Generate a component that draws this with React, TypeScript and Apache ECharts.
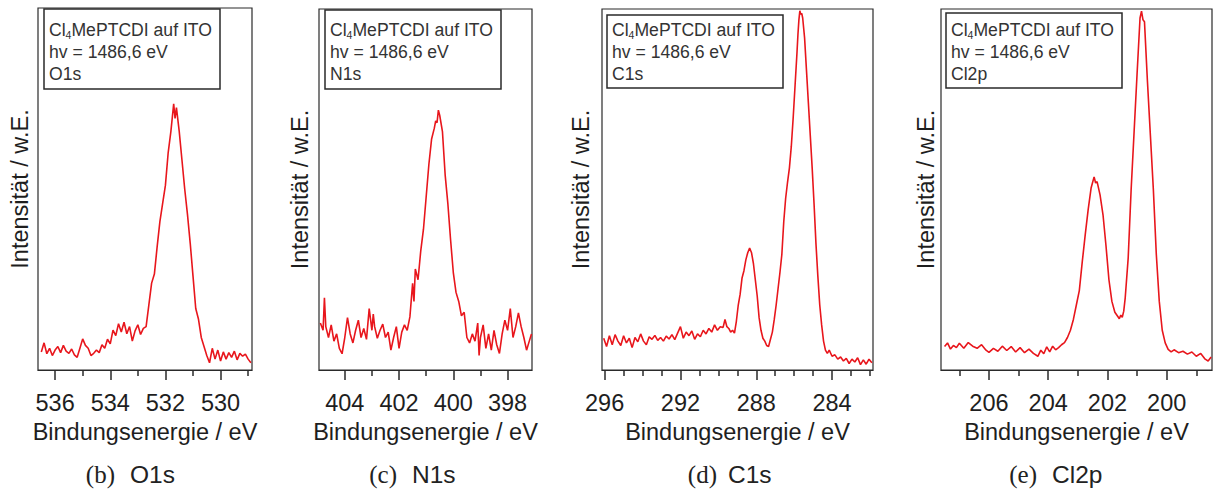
import React, { useEffect, useRef } from "react";
import * as echarts from "echarts";

// ---------- data (binding energy eV, intensity in arb. units 0..100) ----------
const O1S: [number, number][] = [
  [536.5, 5.0], [536.4, 7.5], [536.3, 4.5], [536.2, 6.0], [536.1, 4.0], [536.0, 5.5],
  [535.9, 6.5], [535.8, 4.8], [535.7, 6.8], [535.6, 5.2], [535.5, 4.6], [535.4, 5.8],
  [535.3, 4.2], [535.2, 3.5], [535.1, 6.0], [535.0, 8.6], [534.9, 6.8], [534.8, 6.0],
  [534.7, 4.0], [534.6, 4.6], [534.5, 5.5], [534.4, 4.8], [534.3, 7.0], [534.2, 6.0],
  [534.1, 8.5], [534.0, 7.2], [533.9, 11.0], [533.8, 9.5], [533.7, 12.8], [533.6, 10.5],
  [533.5, 13.2], [533.4, 10.0], [533.3, 12.0], [533.2, 8.0], [533.1, 10.8], [533.0, 12.5],
  [532.9, 9.8], [532.8, 11.5], [532.7, 12.0], [532.6, 18.0], [532.5, 24.0], [532.4, 26.5],
  [532.3, 34.0], [532.2, 41.0], [532.1, 46.0], [532.0, 51.0], [531.9, 60.0], [531.8, 66.0],
  [531.7, 73.5], [531.65, 69.5], [531.6, 72.5], [531.5, 66.0], [531.4, 58.0], [531.3, 50.0],
  [531.2, 43.0], [531.1, 35.0], [531.0, 26.0], [530.9, 17.0], [530.8, 14.0], [530.7, 9.0],
  [530.6, 6.5], [530.5, 4.0], [530.4, 2.0], [530.3, 6.0], [530.2, 3.0], [530.1, 5.5],
  [530.0, 2.5], [529.9, 5.0], [529.8, 3.0], [529.7, 4.8], [529.6, 3.5], [529.5, 5.2],
  [529.4, 2.8], [529.3, 4.6], [529.2, 3.8], [529.1, 4.4], [529.0, 3.0], [528.9, 2.0],
];

const N1S: [number, number][] = [
  [404.9, 13], [404.8, 11], [404.75, 20], [404.7, 12], [404.6, 9], [404.5, 12.5],
  [404.4, 8], [404.3, 10], [404.2, 6], [404.1, 4.5], [404.0, 9], [403.9, 14.5],
  [403.8, 10], [403.7, 7.5], [403.6, 11], [403.5, 13.8], [403.4, 9], [403.3, 11.5],
  [403.2, 8.5], [403.1, 17], [403.0, 11], [402.95, 15.5], [402.9, 12], [402.8, 8.8],
  [402.7, 11], [402.6, 12.7], [402.5, 9], [402.4, 10.5], [402.3, 5.5], [402.2, 9],
  [402.1, 12], [402.0, 6], [401.9, 10.5], [401.8, 12.5], [401.7, 11], [401.6, 14.7],
  [401.5, 24], [401.45, 19], [401.4, 28], [401.3, 25], [401.2, 33], [401.1, 39],
  [401.0, 48], [400.9, 57], [400.8, 64], [400.7, 67], [400.65, 69], [400.6, 68.5],
  [400.55, 72], [400.5, 70.5], [400.4, 66], [400.3, 54], [400.2, 46], [400.1, 36],
  [400.0, 27], [399.9, 21.5], [399.8, 19], [399.7, 15], [399.6, 16], [399.5, 9],
  [399.4, 7.5], [399.3, 10], [399.2, 8], [399.1, 13], [399.05, 4], [399.0, 9],
  [398.9, 12.5], [398.8, 6], [398.7, 10], [398.6, 5.5], [398.5, 11], [398.4, 7],
  [398.3, 4.6], [398.2, 10], [398.1, 13.8], [398.0, 11], [397.9, 17], [397.8, 9],
  [397.7, 12], [397.6, 15.8], [397.5, 12], [397.4, 9], [397.3, 5.5], [397.2, 8],
  [397.12, 10],
];

const C1S: [number, number][] = [
  [296.05, 8.8], [295.9, 6.5], [295.75, 9.5], [295.6, 7.0], [295.45, 9.8], [295.3, 8.0],
  [295.15, 6.8], [295.0, 9.5], [294.85, 7.5], [294.7, 8.8], [294.55, 6.2], [294.4, 9.0],
  [294.25, 7.8], [294.1, 10.0], [293.95, 8.0], [293.8, 7.0], [293.65, 9.2], [293.5, 8.5],
  [293.35, 9.6], [293.2, 8.2], [293.05, 9.0], [292.9, 8.0], [292.75, 9.4], [292.6, 8.6],
  [292.45, 9.8], [292.3, 8.4], [292.15, 10.2], [292.0, 12.0], [291.85, 8.8], [291.7, 10.5],
  [291.55, 9.5], [291.4, 10.8], [291.25, 8.5], [291.1, 10.0], [290.95, 9.2], [290.8, 11.0],
  [290.65, 10.0], [290.5, 11.5], [290.35, 10.5], [290.2, 12.5], [290.05, 11.0], [289.9, 12.0],
  [289.75, 11.8], [289.65, 14.0], [289.55, 12.0], [289.45, 11.5], [289.35, 10.5], [289.25, 11.0],
  [289.15, 10.2], [289.05, 13.5], [288.95, 18.0], [288.85, 21.0], [288.75, 25.5], [288.65, 27.5],
  [288.55, 30.5], [288.45, 32.5], [288.35, 33.8], [288.25, 32.5], [288.15, 29.5], [288.05, 25.0],
  [287.95, 20.5], [287.85, 14.5], [287.75, 11.0], [287.65, 8.8], [287.55, 8.0], [287.45, 6.8],
  [287.35, 6.5], [287.25, 8.5], [287.15, 10.5], [287.05, 14.0], [286.95, 18.0], [286.85, 22.5],
  [286.75, 27.0], [286.65, 32.0], [286.55, 41.0], [286.45, 47.5], [286.35, 52.0], [286.25, 56.0],
  [286.15, 62.0], [286.05, 70.0], [285.95, 79.0], [285.85, 88.0], [285.8, 93.0], [285.75, 97.0],
  [285.7, 99.5], [285.65, 98.5], [285.6, 98.8], [285.55, 97.5], [285.45, 92.0], [285.35, 83.0],
  [285.25, 74.0], [285.15, 65.0], [285.05, 56.0], [284.95, 46.0], [284.85, 35.0], [284.75, 26.0],
  [284.65, 18.0], [284.55, 12.5], [284.45, 8.0], [284.35, 5.5], [284.25, 4.6], [284.15, 5.5],
  [284.0, 3.8], [283.85, 4.2], [283.7, 3.0], [283.55, 3.6], [283.4, 2.5], [283.25, 3.2],
  [283.1, 1.8], [282.95, 3.0], [282.8, 2.2], [282.65, 3.4], [282.5, 1.5], [282.35, 2.8],
  [282.2, 1.6], [282.05, 3.0], [281.9, 2.0],
];

const CL2P: [number, number][] = [
  [207.5, 6.5], [207.4, 7.5], [207.3, 5.8], [207.2, 6.8], [207.1, 6.2], [207.0, 7.4],
  [206.85, 6.0], [206.7, 7.6], [206.55, 6.6], [206.4, 6.0], [206.25, 7.0], [206.1, 5.5],
  [206.0, 4.9], [205.85, 6.0], [205.7, 5.2], [205.55, 6.6], [205.4, 5.4], [205.25, 6.5],
  [205.1, 5.0], [204.95, 6.2], [204.8, 4.8], [204.65, 5.8], [204.5, 4.6], [204.35, 3.8],
  [204.25, 5.5], [204.15, 4.5], [204.05, 6.4], [203.95, 5.0], [203.85, 6.6], [203.75, 5.6],
  [203.65, 6.2], [203.55, 7.0], [203.45, 7.6], [203.35, 9.0], [203.25, 11.0], [203.15, 14.0],
  [203.05, 18.0], [202.95, 22.0], [202.85, 30.0], [202.75, 37.5], [202.65, 44.5], [202.55, 50.5],
  [202.5, 52.0], [202.45, 53.5], [202.4, 51.8], [202.35, 52.2], [202.25, 48.5], [202.15, 43.0],
  [202.05, 34.5], [201.95, 25.0], [201.85, 19.0], [201.75, 16.0], [201.65, 14.8], [201.6, 14.2],
  [201.55, 15.2], [201.5, 14.6], [201.45, 16.3], [201.4, 20.0], [201.3, 31.0], [201.2, 50.0],
  [201.1, 66.0], [201.0, 82.0], [200.9, 97.5], [200.85, 99.4], [200.8, 97.0], [200.75, 96.5],
  [200.65, 80.0], [200.55, 65.0], [200.45, 50.0], [200.35, 32.0], [200.25, 19.0], [200.15, 11.0],
  [200.05, 7.5], [199.95, 5.7], [199.85, 5.0], [199.75, 5.6], [199.6, 4.8], [199.45, 5.2],
  [199.3, 4.4], [199.15, 5.0], [199.0, 3.8], [198.85, 4.6], [198.7, 3.0], [198.6, 2.5],
  [198.5, 3.6],
];

// axis ranges (eV)
const O1S_RANGE = [528.86, 536.62];
const N1S_RANGE = [397.1, 404.95];
const C1S_RANGE = [281.84, 296.14];
const CL2P_RANGE = [198.47, 207.62];

// tick values
const O1S_MAJOR = [536, 534, 532, 530];
const O1S_MINOR = [535, 533, 531, 529];
const N1S_MAJOR = [404, 402, 400, 398];
const N1S_MINOR = [403, 401, 399];
const C1S_MAJOR = [296, 292, 288, 284];
const C1S_MINOR = [295, 294, 293, 291, 290, 289, 287, 286, 285, 283, 282];
const CL2P_MAJOR = [206, 204, 202, 200];
const CL2P_MINOR = [207, 205, 203, 201, 199];

// texts
const LINES = ["Cl", "4", "MePTCDI auf ITO", "hv = 1486,6 eV"];
const LEVELS = ["O1s", "N1s", "C1s", "Cl2p"];
const LETTERS = ["(b)", "(c)", "(d)", "(e)"];
const X_NAME = "Bindungsenergie / eV";
const Y_NAME = "Intensität / w.E.";

const SERIES = [O1S, N1S, C1S, CL2P];
const RANGES = [O1S_RANGE, N1S_RANGE, C1S_RANGE, CL2P_RANGE];
const MAJORS = [O1S_MAJOR, N1S_MAJOR, C1S_MAJOR, CL2P_MAJOR];
const MINORS = [O1S_MINOR, N1S_MINOR, C1S_MINOR, CL2P_MINOR];

// layout
const GRIDS = [
  { left: 38, top: 8, width: 214, height: 362 },
  { left: 319, top: 9, width: 213, height: 361 },
  { left: 602, top: 9, width: 271, height: 361 },
  { left: 941, top: 9, width: 271, height: 361 },
];
const BOXES = [
  { x: 44, y: 9, w: 176, h: 80 },
  { x: 325, y: 10, w: 176, h: 79 },
  { x: 607, y: 15, w: 176, h: 73 },
  { x: 946, y: 13, w: 176, h: 75 },
];
const YNAME_GAP = [6, 7, 9, 3];
const CAPTION_LETTER_END = [115, 397, 717, 1037];
const CAPTION_LABEL_START = [130, 412, 728, 1052];

const FONT = "'Liberation Sans', Arial, sans-serif";
const INK = "#2a2a2a";
const RED = "#e8161c";
const AX_FS = 23.5;

export default function App() {
  const ref = useRef<HTMLDivElement>(null);
  useEffect(() => {
    if (!ref.current) return;
    const chart = echarts.init(ref.current, undefined, { renderer: "svg" });

    const grid = GRIDS.map((g) => ({
      ...g,
      show: true,
      borderColor: INK,
      borderWidth: 1.2,
      backgroundColor: "transparent",
    }));

    const xAxis: any[] = [];
    GRIDS.forEach((_, i) => {
      xAxis.push({
        type: "value",
        gridIndex: i,
        position: "bottom",
        inverse: true,
        min: RANGES[i][0],
        max: RANGES[i][1],
        axisLine: { show: true, lineStyle: { color: INK, width: 1.2 } },
        axisTick: { show: true, customValues: MAJORS[i], length: 10, lineStyle: { color: INK, width: 1.5 } },
        axisLabel: { customValues: MAJORS[i], margin: 21, fontSize: AX_FS, color: "#1e1e1e", fontFamily: FONT },
        splitLine: { show: false },
        name: X_NAME,
        nameLocation: "middle",
        nameGap: 49,
        nameTextStyle: { fontSize: AX_FS, color: "#1e1e1e", fontFamily: FONT },
      });
      xAxis.push({
        type: "value",
        gridIndex: i,
        position: "bottom",
        inverse: true,
        min: RANGES[i][0],
        max: RANGES[i][1],
        axisLine: { show: false },
        axisTick: { show: true, customValues: MINORS[i], length: 6, lineStyle: { color: INK, width: 1.5 } },
        axisLabel: { show: false },
        splitLine: { show: false },
      });
    });

    const yAxis = GRIDS.map((_, i) => ({
      type: "value",
      gridIndex: i,
      min: 0,
      max: 100,
      axisLine: { show: false },
      axisTick: { show: false },
      axisLabel: { show: false },
      splitLine: { show: false },
      name: Y_NAME,
      nameLocation: "middle",
      nameGap: YNAME_GAP[i],
      nameTextStyle: { fontSize: AX_FS, color: "#1e1e1e", fontFamily: FONT },
    }));

    const series = SERIES.map((d, i) => ({
      type: "line",
      xAxisIndex: i * 2,
      yAxisIndex: i,
      data: d,
      showSymbol: false,
      symbol: "none",
      lineStyle: { color: RED, width: 1.6 },
      clip: true,
    }));

    const graphic: any[] = [];
    BOXES.forEach((b, i) => {
      graphic.push({
        type: "rect",
        shape: { x: b.x, y: b.y, width: b.w, height: b.h },
        style: { fill: "#fff", stroke: INK, lineWidth: 1.5 },
        z: 100,
      });
      graphic.push({
        type: "text",
        x: b.x + 5,
        y: 19,
        z: 101,
        style: {
          text:
            `{a|${LINES[0]}}{s|${LINES[1]}}{a|${LINES[2]}}\n` +
            `{a|${LINES[3]}}\n{a|${LEVELS[i]}}`,
          verticalAlign: "top",
          align: "left",
          rich: {
            a: { fontSize: 17.6, fontFamily: FONT, fill: "#333", lineHeight: 22, verticalAlign: "middle" },
            s: { fontSize: 10.5, fontFamily: FONT, fill: "#333", lineHeight: 22, padding: [10, 0, 0, 0], verticalAlign: "middle" },
          },
        },
      });
      graphic.push({
        type: "text",
        x: CAPTION_LETTER_END[i],
        y: 474,
        style: {
          text: LETTERS[i],
          align: "right",
          verticalAlign: "middle",
          fontSize: 25,
          fontFamily: "'Liberation Serif', serif",
          fill: "#222",
        },
      });
      graphic.push({
        type: "text",
        x: CAPTION_LABEL_START[i],
        y: 474,
        style: {
          text: LEVELS[i],
          align: "left",
          verticalAlign: "middle",
          fontSize: 24.5,
          fontFamily: FONT,
          fill: "#222",
        },
      });
    });

    chart.setOption({
      animation: false,
      backgroundColor: "#fff",
      grid,
      xAxis,
      yAxis,
      series,
      graphic,
    });
    return () => chart.dispose();
  }, []);

  return (
    <div
      ref={ref}
      style={{ position: "fixed", left: 0, top: 0, width: 1213, height: 490 }}
    />
  );
}
